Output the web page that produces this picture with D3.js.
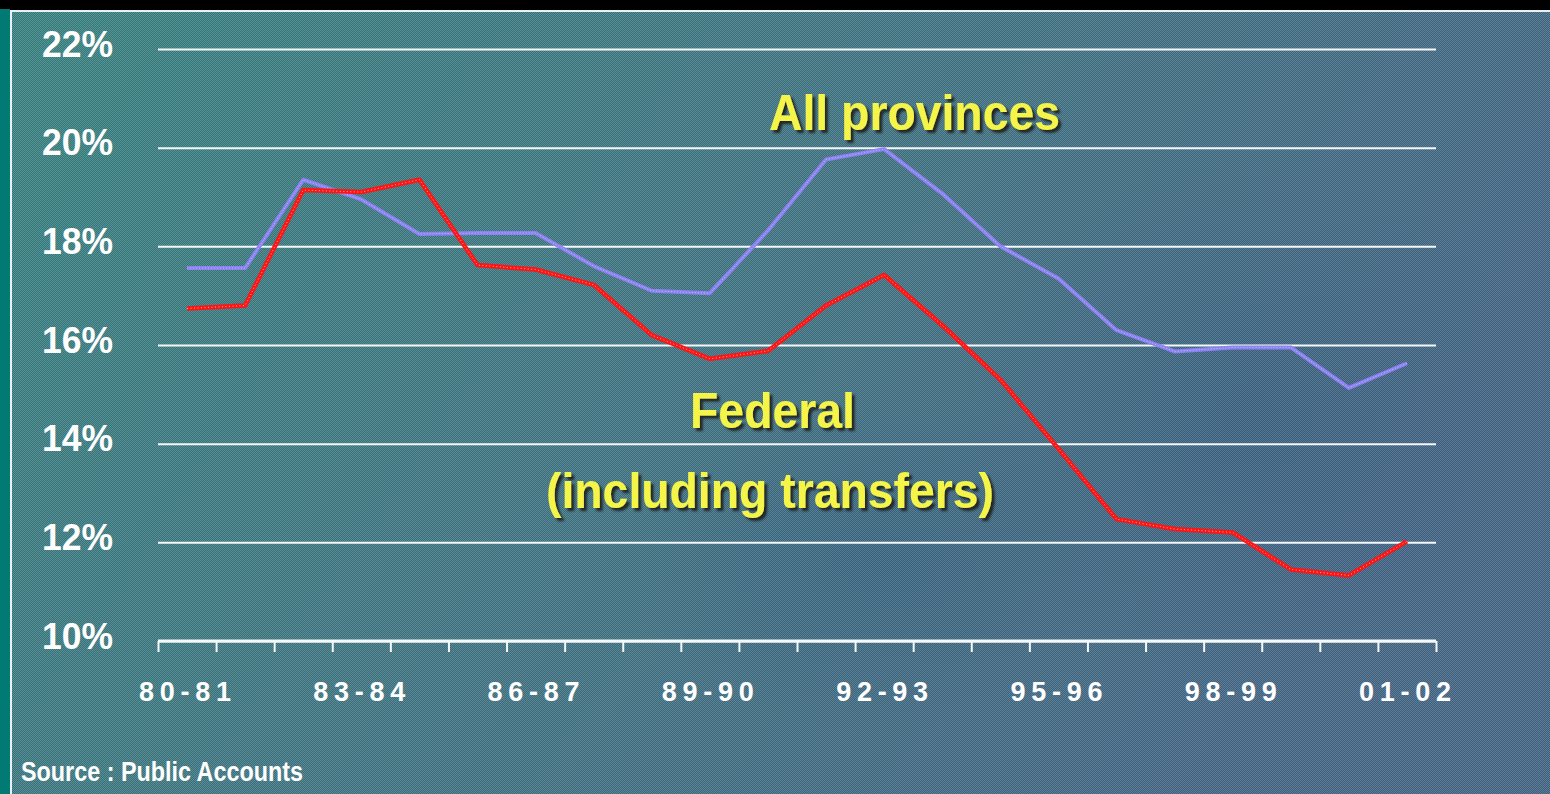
<!DOCTYPE html>
<html>
<head>
<meta charset="utf-8">
<script src="https://cdn.jsdelivr.net/npm/d3@7"></script>
<style>
html,body{margin:0;padding:0;background:#000;overflow:hidden;}
svg{display:block;}
</style>
</head>
<body>
<svg id="chart" width="1550" height="794"></svg>
<script>
// ---- data ----
const categories = ["80-81","81-82","82-83","83-84","84-85","85-86","86-87","87-88","88-89","89-90","90-91",
                    "91-92","92-93","93-94","94-95","95-96","96-97","97-98","98-99","99-00","00-01","01-02"];
const allProvinces = [17.56,17.56,19.35,18.95,18.25,18.27,18.27,17.6,17.1,17.05,18.32,
                      19.76,19.97,19.07,18.0,17.35,16.3,15.87,15.95,15.95,15.13,15.63];
const federal = [16.74,16.8,19.14,19.1,19.35,17.62,17.53,17.22,16.2,15.72,15.88,
                 16.8,17.42,16.4,15.3,13.9,12.47,12.27,12.2,11.45,11.33,12.02];
const yTicks = [10,12,14,16,18,20,22];
const xTickLabels = ["80-81","83-84","86-87","89-90","92-93","95-96","98-99","01-02"];

const svg = d3.select("#chart");
const W = 1550, H = 794;
const font = "'Liberation Sans','Arial',sans-serif";

// ---- background / frame ----
const defs = svg.append("defs");
const lg = defs.append("linearGradient").attr("id","bg").attr("x1","0").attr("y1","0").attr("x2","1").attr("y2","0.35");
lg.append("stop").attr("offset","0").attr("stop-color","#3c8886");
lg.append("stop").attr("offset","0.45").attr("stop-color","#437c89");
lg.append("stop").attr("offset","1").attr("stop-color","#486b8b");
const pat = defs.append("pattern").attr("id","dither").attr("width",2).attr("height",2).attr("patternUnits","userSpaceOnUse");
pat.append("rect").attr("width",1).attr("height",1).attr("fill","#ffffff").attr("opacity",0.12);
pat.append("rect").attr("x",1).attr("y",1).attr("width",1).attr("height",1).attr("fill","#ffffff").attr("opacity",0.12);
pat.append("rect").attr("x",1).attr("y",0).attr("width",1).attr("height",1).attr("fill","#000000").attr("opacity",0.12);
pat.append("rect").attr("x",0).attr("y",1).attr("width",1).attr("height",1).attr("fill","#000000").attr("opacity",0.12);
const rg = defs.append("radialGradient").attr("id","spot").attr("cx","0.5").attr("cy","0.5").attr("r","0.5");
rg.append("stop").attr("offset","0").attr("stop-color","#2f5a82").attr("stop-opacity",0.35);
rg.append("stop").attr("offset","1").attr("stop-color","#2f5a82").attr("stop-opacity",0);
const sh = defs.append("filter").attr("id","shadow").attr("x","-5%").attr("y","-20%").attr("width","115%").attr("height","150%");
sh.append("feDropShadow").attr("dx",3).attr("dy",3).attr("stdDeviation",0.8).attr("flood-color","#1a1a1a").attr("flood-opacity",0.9);

svg.append("rect").attr("width",W).attr("height",H).attr("fill","#000");
svg.append("rect").attr("x",0).attr("y",9).attr("width",10).attr("height",H-9).attr("fill","#007a72");
svg.append("rect").attr("x",10).attr("y",10).attr("width",W-10).attr("height",H-10).attr("fill","url(#bg)");
svg.append("ellipse").attr("cx",880).attr("cy",560).attr("rx",260).attr("ry",170).attr("fill","url(#spot)");
svg.append("ellipse").attr("cx",1250).attr("cy",420).attr("rx",300).attr("ry",260).attr("fill","url(#spot)");
svg.append("rect").attr("x",10).attr("y",10).attr("width",W-10).attr("height",H-10).attr("fill","url(#dither)");
svg.append("rect").attr("x",10).attr("y",10).attr("width",W-10).attr("height",2).attr("fill","#e8f2f4");
svg.append("rect").attr("x",10).attr("y",10).attr("width",2).attr("height",H-10).attr("fill","#e8f2f4");

// ---- scales ----
const x0 = 158, x1 = 1436, yTop = 49, yBot = 641;
const x = d3.scaleBand().domain(categories).range([x0, x1]).padding(0);
const xIdx = d3.scaleLinear().domain([0, categories.length]).range([x0, x1]);
const y = d3.scaleLinear().domain([10, 22]).range([yBot, yTop]);
const cx = c => x(c) + x.bandwidth()/2;

// ---- y axis + gridlines ----
const yAxis = svg.append("g").attr("transform",`translate(${x0},0)`)
  .call(d3.axisLeft(y).tickValues(yTicks).tickFormat(d => d + "%").tickSize(-(x1 - x0)).tickPadding(45));
yAxis.select(".domain").remove();
yAxis.selectAll(".tick line").attr("stroke","#f4f8f8").attr("stroke-width",2);
yAxis.selectAll(".tick text").attr("fill","#ffffff").attr("font-family",font).attr("font-weight","bold")
  .attr("font-size",36).attr("dy","0.2em").attr("textLength",71).attr("lengthAdjust","spacingAndGlyphs");

// ---- x axis ----
const xAxis = svg.append("g").attr("transform",`translate(0,${yBot})`)
  .call(d3.axisBottom(x).tickValues(xTickLabels).tickSize(0).tickPadding(41));
xAxis.select(".domain").remove();
xAxis.selectAll(".tick text").attr("fill","#ffffff").attr("font-family",font).attr("font-weight","bold")
  .attr("font-size",27).attr("textLength",92).attr("lengthAdjust","spacing").attr("dx","-2px");
const bAxis = svg.append("g").attr("transform",`translate(0,${yBot})`)
  .call(d3.axisBottom(xIdx).tickValues(d3.range(categories.length + 1)).tickSize(11).tickFormat(""));
bAxis.select(".domain").attr("stroke","#f4f8f8").attr("stroke-width",3).attr("d",`M${x0},0H${x1}`);
bAxis.selectAll(".tick line").attr("stroke","#f4f8f8").attr("stroke-width",2);

// ---- lines ----
const line = d3.line().x((d,i) => cx(categories[i])).y(d => y(d));
svg.append("path").datum(allProvinces).attr("d",line).attr("fill","none")
  .attr("stroke","#8c82f2").attr("stroke-width",4).attr("stroke-linejoin","round");
svg.append("path").datum(allProvinces).attr("d",line).attr("fill","none")
  .attr("stroke","#d6d2ff").attr("stroke-width",1).attr("stroke-dasharray","1 2").attr("opacity",0.7);
svg.append("path").datum(federal).attr("d",line).attr("fill","none")
  .attr("stroke","#ff1414").attr("stroke-width",4.5).attr("stroke-linejoin","round");
svg.append("path").datum(federal).attr("d",line).attr("fill","none")
  .attr("stroke","#ffd0d0").attr("stroke-width",1).attr("stroke-dasharray","1 2.5").attr("opacity",0.8);

// ---- annotations ----
const ann = svg.append("g").attr("font-family",font).attr("font-weight","bold").attr("font-size",50)
  .attr("fill","#f4f44a").attr("filter","url(#shadow)");
ann.append("text").attr("x",769).attr("y",130).attr("textLength",291).attr("lengthAdjust","spacingAndGlyphs").text("All provinces");
ann.append("text").attr("x",690).attr("y",428).attr("textLength",165).attr("lengthAdjust","spacingAndGlyphs").text("Federal");
ann.append("text").attr("x",546).attr("y",508).attr("textLength",448).attr("lengthAdjust","spacingAndGlyphs").text("(including transfers)");

svg.append("text").attr("x",21).attr("y",781).attr("font-family",font).attr("font-weight","bold")
  .attr("font-size",28).attr("fill","#ffffff").attr("textLength",282).attr("lengthAdjust","spacingAndGlyphs")
  .text("Source : Public Accounts");
</script>
</body>
</html>
